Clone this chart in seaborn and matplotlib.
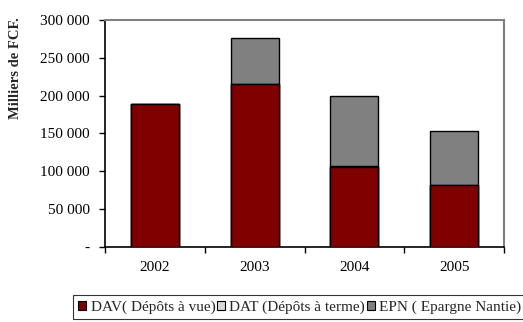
import matplotlib
matplotlib.use("Agg")
import matplotlib.pyplot as plt
import seaborn as sns
import numpy as np
from matplotlib.patches import Patch

years = ["2002", "2003", "2004", "2005"]
dav = [189000, 215000, 105000, 82000]
dat = [0, 0, 1500, 0]
epn = [0, 61000, 92500, 71000]
series_labels = ["DAV( Dépôts à vue)", "DAT (Dépôts à terme)", "EPN ( Epargne Nantie)"]
series_colors = ["#800000", "#D9D9D9", "#808080"]
yticks = [0, 50000, 100000, 150000, 200000, 250000, 300000]
ytick_labels = ["-", "50 000", "100 000", "150 000", "200 000", "250 000", "300 000"]
ylabel = "Milliers de FCF."

sns.set_theme(style="white")
plt.rcParams["font.family"] = ["Liberation Serif", "DejaVu Serif"]

fig = plt.figure(figsize=(5.23, 3.22), dpi=100)
ax = fig.add_axes([105/523, 1-246.7/322, (504-105)/523, (246.7-20)/322])

dav_a = np.array(dav, dtype=float)
dat_a = np.array(dat, dtype=float)
epn_a = np.array(epn, dtype=float)
layers = [
    (dav_a + dat_a + epn_a, series_colors[2]),
    (dav_a + dat_a, series_colors[1]),
    (dav_a, series_colors[0]),
]
for vals, col in layers:
    mask_vals = np.where(vals > 0, vals, np.nan)
    sns.barplot(x=years, y=mask_vals, color=col, saturation=1, width=0.48,
                edgecolor="black", linewidth=1.0, ax=ax, zorder=3)

ax.set_xlim(-0.5, 3.5)
ax.set_ylim(0, 300000)
ax.set_yticks(yticks)
ax.set_yticklabels(ytick_labels, fontsize=11)
ax.set_xticks(range(len(years)))
ax.set_xticklabels(years, fontsize=11)
ax.set_xticks([-0.5, 0.5, 1.5, 2.5, 3.5], minor=True)
ax.tick_params(axis="x", which="major", length=0, pad=10, colors="black")
ax.tick_params(axis="x", which="minor", length=4, width=1, direction="out", colors="black", bottom=True)
ax.tick_params(axis="y", which="major", length=4, width=1, direction="out", left=True, pad=7, colors="black")
ax.set_xlabel("")
ax.set_ylabel("")
for s in ["left", "bottom"]:
    ax.spines[s].set_color("black")
    ax.spines[s].set_linewidth(1.2)
for s in ["top", "right"]:
    ax.spines[s].set_color("#808080")
    ax.spines[s].set_linewidth(1.5)
ax.grid(False)

fig.text(16/523, 1-68/322, ylabel, rotation=90, ha="center", va="center",
         fontsize=10.5, fontweight="bold")

handles = [Patch(facecolor=c, edgecolor="black", linewidth=0.8) for c in series_colors]
leg = fig.legend(handles, series_labels, loc="upper left",
                 bbox_to_anchor=(73/523, 1-295/322), ncol=3, fontsize=11,
                 frameon=True, fancybox=False, handlelength=0.5, handleheight=0.5,
                 handletextpad=0.3, columnspacing=0.12, borderpad=0.35,
                 borderaxespad=0)
leg.get_frame().set_edgecolor("black")
leg.get_frame().set_linewidth(0.8)

fig.savefig("out.png", dpi=100)
